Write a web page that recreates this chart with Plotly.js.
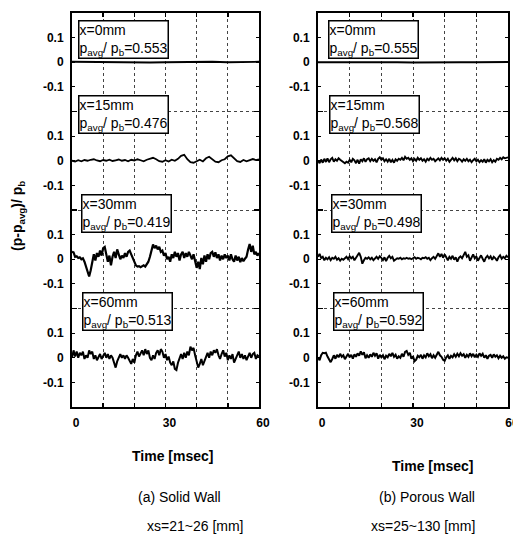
<!DOCTYPE html>
<html>
<head>
<meta charset="utf-8">
<script src="https://cdn.plot.ly/plotly-3.0.1.min.js"></script>
<style>
html,body{margin:0;padding:0;background:#fff;}
#chart{width:513px;height:539px;}
</style>
</head>
<body>
<div id="chart"></div>
<script>
// ---------------- DATA ----------------
const panelTitles = ["(a) Solid Wall", "(b) Porous Wall"];
const panelRanges = ["xs=21~26 [mm]", "xs=25~130 [mm]"];
const stations = ["x=0mm", "x=15mm", "x=30mm", "x=60mm"];
const ratioSolid = ["0.553", "0.476", "0.419", "0.513"];
const ratioPorous = ["0.555", "0.568", "0.498", "0.592"];
const xTickVals = [0, 10, 20, 30, 40, 50, 60];
const xTickText = ["0", "", "", "30", "", "", "60"];
const yTickText = ["0.1", "0", "-0.1"];

// sample step (msec) of each recorded series
const stepFlat = 5, stepMid = 1, stepFine = 0.5;

// (a) Solid wall
const solid_x0 = [0.002,0.001,0,0.001,0,-0.001,0,0.001,0,0.002,0,0.001,0.002];
const solid_x15 = [0.000,-0.003,0.002,-0.002,0.003,0.000,0.004,0.006,0.001,-0.002,0.003,0.000,0.004,-0.001,0.002,0.005,0.000,0.003,-0.002,0.004,0.001,0.006,0.002,-0.002,0.004,0.008,0.012,0.006,-0.002,-0.004,0.002,-0.003,0.004,0.000,0.008,0.020,0.024,0.006,-0.006,-0.008,-0.002,0.004,-0.003,0.010,0.016,0.004,-0.004,-0.006,0.002,0.006,0.018,0.022,0.008,-0.002,-0.005,0.003,-0.002,0.004,0.007,0.003,0.006];
const solid_x30 = [0.030,0.028,0.010,0.012,0.005,0.008,0.000,0.004,-0.010,-0.030,-0.055,-0.070,-0.045,-0.010,0.020,-0.005,0.025,0.010,0.035,0.015,0.045,0.050,0.020,-0.010,0.015,-0.025,0.010,0.030,0.005,0.040,0.020,0.000,0.015,0.005,0.025,0.010,0.030,0.035,0.020,0.005,-0.015,-0.025,-0.030,-0.028,-0.032,-0.030,-0.025,-0.030,-0.020,-0.010,0.010,0.040,0.060,0.045,0.055,0.040,0.050,0.030,0.035,0.015,0.025,0.000,0.010,-0.010,0.020,0.005,0.030,0.010,0.025,-0.005,0.020,0.030,0.005,0.025,0.010,0.030,0.015,0.000,0.020,-0.015,-0.035,-0.010,-0.040,0.005,-0.020,0.015,-0.010,0.020,0.000,0.025,0.030,0.010,0.028,0.005,0.020,-0.005,0.015,0.000,0.020,0.005,0.015,-0.005,0.020,0.000,-0.010,0.015,-0.005,0.010,-0.012,0.005,-0.008,0.002,0.010,0.040,0.062,0.030,0.055,0.020,0.030,0.015,0.025];
const solid_x60 = [0.000,0.030,0.005,0.025,0.000,0.020,0.010,0.025,-0.005,0.010,0.000,0.030,0.015,0.025,-0.005,0.010,-0.010,0.005,0.015,-0.005,0.010,0.020,0.000,0.015,-0.005,0.010,0.000,-0.020,-0.040,-0.015,0.005,0.015,0.000,0.010,-0.005,0.010,0.000,-0.010,-0.025,-0.005,-0.020,0.010,0.025,0.005,0.020,0.030,0.010,0.035,0.015,0.030,0.000,-0.010,0.010,-0.005,0.020,0.030,0.010,0.035,0.025,0.000,0.015,-0.010,0.005,-0.020,-0.030,-0.015,-0.045,-0.050,-0.020,0.000,0.015,-0.005,0.020,0.000,0.025,0.010,0.045,0.030,0.040,0.010,-0.010,-0.040,-0.025,-0.005,-0.030,-0.010,0.005,0.020,0.000,0.025,0.010,0.030,0.020,0.035,0.010,-0.005,0.015,0.030,0.005,0.020,-0.010,0.010,-0.005,0.015,-0.020,-0.005,0.010,0.025,0.000,0.015,-0.005,0.010,-0.010,0.005,0.020,0.000,0.015,0.020,-0.005,0.010,0.005];

// (b) Porous wall
const porous_x0 = [0,0.001,0,0,0.001,0,-0.001,0,0.001,0,0,0.001,0.001];
const porous_x15 = [0.000,-0.010,0.005,-0.008,0.008,-0.005,0.010,-0.006,0.006,0.012,-0.004,0.006,0.000,0.010,0.004,-0.002,-0.006,-0.010,-0.004,-0.008,0.004,-0.006,0.008,0.002,-0.010,0.004,-0.012,0.006,-0.002,0.010,-0.004,0.006,0.010,-0.002,0.008,0.000,0.006,-0.006,0.008,0.014,0.004,0.010,-0.002,0.006,-0.004,0.008,-0.006,0.004,-0.008,0.006,0.000,0.008,0.004,0.012,0.002,0.016,0.008,0.012,0.004,0.010,-0.002,0.008,0.000,0.012,0.004,0.010,0.000,0.006,-0.004,0.008,0.002,0.012,0.004,0.008,-0.002,0.006,0.010,0.002,0.012,0.004,0.010,0.000,0.008,-0.004,0.006,0.012,0.002,0.010,-0.002,0.008,0.004,-0.004,0.006,0.000,0.008,-0.002,0.004,-0.006,0.002,0.008,-0.002,0.004,-0.006,0.002,-0.004,0.006,-0.008,0.004,-0.002,0.006,-0.006,0.002,-0.004,0.008,0.004,0.012,0.006,0.014,0.010,0.012,0.014];
const porous_x30 = [0.010,0.022,0.005,0.010,-0.004,0.006,0.000,0.008,-0.004,0.006,0.002,0.010,-0.002,0.004,-0.006,0.002,-0.002,0.006,0.010,0.000,0.012,0.004,0.010,-0.004,0.008,0.018,0.026,0.010,-0.018,-0.004,0.006,0.002,0.008,0.000,0.006,-0.004,0.004,0.010,0.002,0.012,0.006,-0.004,0.008,-0.008,0.006,0.014,0.004,0.010,-0.006,0.000,0.004,0.002,0.006,0.000,0.004,0.002,0.006,0.002,0.004,0.000,0.006,0.008,0.002,0.006,0.004,0.000,0.006,0.004,0.008,0.002,0.006,-0.004,0.004,0.010,0.002,0.012,0.024,0.010,0.022,0.006,0.020,0.008,-0.004,0.010,0.002,0.014,-0.002,0.008,-0.010,0.006,0.012,0.004,0.016,0.030,0.010,0.016,-0.006,0.010,0.020,0.004,0.012,-0.006,0.008,0.016,0.002,-0.010,0.006,0.014,0.004,0.012,-0.002,0.010,0.004,-0.006,0.008,0.016,0.002,0.010,0.004,0.014,0.008];
const porous_x60 = [0.000,-0.010,0.010,0.020,0.018,0.020,0.005,-0.010,-0.018,-0.005,0.010,-0.004,0.012,0.002,0.016,0.004,0.010,-0.006,0.008,0.016,0.002,0.012,-0.004,0.014,0.004,0.018,0.008,0.026,0.012,0.022,-0.002,0.010,0.000,0.014,0.004,0.020,0.008,0.018,-0.004,0.012,0.002,0.010,-0.006,0.008,0.002,0.016,0.006,0.020,0.004,0.012,-0.004,0.006,0.000,0.016,0.004,0.024,0.028,0.012,0.020,-0.004,0.006,-0.014,-0.008,0.008,0.002,0.012,-0.004,0.010,0.002,0.018,0.006,0.014,-0.002,0.010,0.000,0.016,0.024,0.010,0.004,-0.008,-0.012,0.002,0.010,-0.004,0.008,0.002,0.014,0.004,0.016,0.006,0.018,0.008,0.014,0.000,0.012,0.004,0.018,0.006,0.016,0.002,0.012,0.004,0.018,0.008,0.016,0.000,0.010,-0.004,0.008,0.012,0.000,0.014,0.004,0.010,-0.002,0.008,0.000,0.006,-0.004,0.002,0.000];

// ---------------- BUILD ----------------
const SPACING = 0.4;      // vertical offset between stacked records
const HALF = 0.2;         // half band height of one record
const nRec = 4;
const offsets = [0,1,2,3].map(k => -k * SPACING);
const yRange = [offsets[nRec-1] - HALF, offsets[0] + HALF];

function timeAxis(n, step){ return Array.from({length:n}, (_, i) => i * step); }

const panels = [
  {series:[[solid_x0,stepFlat],[solid_x15,stepMid],[solid_x30,stepFine],[solid_x60,stepFine]], ratios: ratioSolid, xa:'x', ya:'y', widths:[1.8,1.8,2.2,2]},
  {series:[[porous_x0,stepFlat],[porous_x15,stepFine],[porous_x30,stepFine],[porous_x60,stepFine]], ratios: ratioPorous, xa:'x2', ya:'y2', widths:[1.8,1.9,1.9,2]}
];

const traces = [];
panels.forEach(p => {
  p.series.forEach(([vals, step], k) => {
    traces.push({
      x: timeAxis(vals.length, step),
      y: vals.map(v => v + offsets[k]),
      type: 'scatter', mode: 'lines',
      line: {color: '#000', width: p.widths[k]},
      xaxis: p.xa, yaxis: p.ya, showlegend: false, hoverinfo: 'skip'
    });
  });
});

const yTickVals = [], yTickLabels = [];
offsets.forEach(o => { [0.1, 0, -0.1].forEach((d, j) => { yTickVals.push(o + d); yTickLabels.push(yTickText[j]); }); });
const boundaries = offsets.slice(0, nRec-1).map(o => o - HALF);

const W = 513, H = 539;
const font = {family: 'Arial, "Liberation Sans", sans-serif', color: '#000'};

function xAxis(dom, anchor){
  return {
    domain: dom, anchor: anchor, range: [0, 60],
    tickmode: 'array', tickvals: xTickVals, ticktext: xTickText,
    ticks: 'inside', ticklen: 4, tickwidth: 1.5, tickcolor: '#000',
    showline: true, linewidth: 2, linecolor: '#000', mirror: 'ticks',
    showgrid: true, gridcolor: '#444', gridwidth: 1, griddash: 'dot',
    zeroline: false, tickfont: {...font, size: 12, weight: 'bold'},
    ticklabelshift: 4, ticklabelstandoff: 4, ticklabeloverflow: 'allow'
  };
}
function yAxis(anchor){
  return {
    domain: [1 - 407/H, 1 - 13/H], anchor: anchor, range: yRange,
    tickmode: 'array', tickvals: yTickVals, ticktext: yTickLabels,
    ticks: 'inside', ticklen: 3, tickwidth: 1, tickcolor: '#000',
    showline: true, linewidth: 2, linecolor: '#000', mirror: 'ticks',
    showgrid: false, zeroline: false,
    minor: {tickmode: 'array', tickvals: boundaries, ticks: 'inside', ticklen: 5, tickwidth: 1.5, tickcolor: '#000', showgrid: true, gridcolor: '#444', gridwidth: 1, griddash: 'dot'},
    tickfont: {...font, size: 12, weight: 'bold'}, ticklabelstandoff: 4
  };
}

const annotations = [];
const boxX = [[2, 2, 3, 3.2], [3.2, 3.5, 4.2, 4.7]];
const boxTop = [0.17, 0.265, 0.265, 0.268];
panels.forEach((p, pi) => {
  p.ratios.forEach((r, k) => {
    annotations.push({
      xref: p.xa, yref: p.ya, x: boxX[pi][k], y: offsets[k] + boxTop[k],
      xanchor: 'left', yanchor: 'top', align: 'left', showarrow: false,
      text: stations[k] + '<br>p<sub>avg</sub>/ p<sub>b</sub>=' + r,
      font: {...font, size: 14}, bgcolor: '#fff', bordercolor: '#000', borderwidth: 1.5, borderpad: 0
    });
  });
});

// axis-title and caption texts (paper coords)
function paperText(text, px, py, size, weight, angle){
  annotations.push({xref: 'paper', yref: 'paper', x: px / W, y: 1 - py / H, xanchor: 'center', yanchor: 'middle',
    text: text, showarrow: false, textangle: angle || 0, font: {...font, size: size, weight: weight || 'normal'}});
}
paperText('(p-p<sub>avg</sub>)/ p<sub>b</sub>', 18, 216, 14, 'bold', -90);
paperText('Time [msec]', 172, 456, 14, 'bold');
paperText('Time [msec]', 432, 466, 14, 'bold');
paperText(panelTitles[0], 179, 497, 14);
paperText(panelTitles[1], 427, 497, 14);
paperText(panelRanges[0], 195, 526, 14);
paperText(panelRanges[1], 423, 526, 14);

const layout = {
  width: W, height: H,
  margin: {l: 0, r: 0, t: 0, b: 0},
  paper_bgcolor: '#fff', plot_bgcolor: '#fff',
  showlegend: false,
  xaxis: xAxis([72/W, 259/W], 'y'),
  yaxis: yAxis('x'),
  xaxis2: xAxis([318/W, 508/W], 'y2'),
  yaxis2: yAxis('x2'),
  annotations: annotations
};

Plotly.newPlot('chart', traces, layout, {staticPlot: true, displayModeBar: false});
</script>
</body>
</html>
